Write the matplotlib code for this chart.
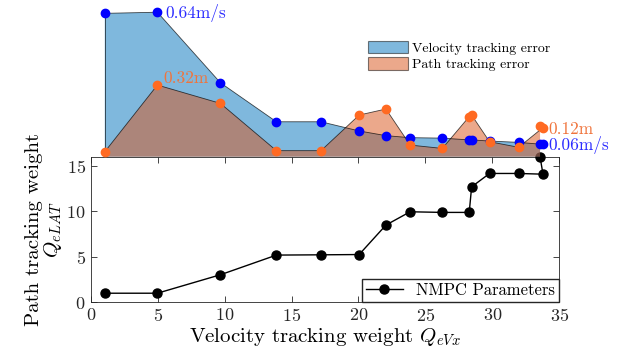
import matplotlib
matplotlib.use('Agg')
import matplotlib.pyplot as plt
from matplotlib.patches import Patch

# data
q_vx = [1.05, 4.98, 9.69, 13.87, 17.2, 20.05, 22.05, 23.86, 26.26, 28.27, 28.45, 29.79, 31.96, 33.78, 33.56]
q_lat = [1.0, 1.0, 3.03, 5.19, 5.22, 5.25, 8.49, 9.95, 9.88, 9.88, 12.69, 14.16, 14.16, 14.08, 15.98]
vel_err = [0.64, 0.645, 0.33, 0.156, 0.156, 0.115, 0.094, 0.085, 0.083, 0.075, 0.075, 0.07, 0.064, 0.055, 0.055]
path_err = [0.022, 0.32, 0.238, 0.027, 0.027, 0.186, 0.213, 0.052, 0.037, 0.179, 0.186, 0.067, 0.042, 0.13, 0.135]

plt.rcParams['font.family'] = 'serif'
plt.rcParams['font.serif'] = ['cmr10']
plt.rcParams['mathtext.fontset'] = 'cm'
plt.rcParams['axes.formatter.use_mathtext'] = True

blue = '#0072BD'
orange = '#D95319'

fig = plt.figure(figsize=(6.23, 3.54), dpi=100)

# bottom panel: weights
ax = fig.add_axes([0.1456, 0.146, 0.7522, 0.4113])
ax.plot(q_vx, q_lat, color='black', lw=1.0, marker='o', ms=6.5,
        label='NMPC Parameters', clip_on=False, zorder=5)
ax.set_xlim(0, 35)
ax.set_ylim(0, 16)
ax.set_xticks([0, 5, 10, 15, 20, 25, 30, 35])
ax.set_yticks([0, 5, 10, 15])
ax.tick_params(direction='in', top=True, right=True, length=4, width=0.6,
               labelsize=13, colors='#262626')
for s in ax.spines.values():
    s.set_linewidth(0.6)
    s.set_color('#262626')
ax.set_xlabel(r'Velocity tracking weight $Q_{eVx}$', fontsize=15, labelpad=1)
ax.set_ylabel('Path tracking weight\n' + r'$Q_{eLAT}$', fontsize=15, labelpad=2,
              linespacing=0.9)
ax.legend(loc='lower right', fontsize=12, frameon=True, fancybox=False,
          edgecolor='#262626', framealpha=1, borderpad=0.25, handlelength=2.2,
          borderaxespad=0)

# top panel: tracking errors
top = fig.add_axes([0.1456, 0.5573, 0.7522, 0.4427])
top.set_xlim(0, 35)
top.set_ylim(0, 0.6996)
top.axis('off')
top.fill_between(q_vx, 0, vel_err, facecolor=blue, alpha=0.5, edgecolor='none')
top.plot(q_vx, vel_err, color='black', lw=0.6, alpha=0.7)
top.fill_between(q_vx, 0, path_err, facecolor=orange, alpha=0.5, edgecolor='none')
top.plot(q_vx, path_err, color='black', lw=0.6, alpha=0.7)
top.plot([q_vx[0], q_vx[0]], [0, vel_err[0]], color='black', lw=0.6, alpha=0.7)
top.plot(q_vx, vel_err, 'o', color='#0000ff', ms=6, clip_on=False)
top.plot(q_vx, path_err, 'o', color='#ff6a22', ms=6, clip_on=False)

top.text(5.6, 0.64, '0.64m/s', color='#2a2aff', fontsize=12.5, va='center')
top.text(5.4, 0.35, '0.32m', color='#f0743c', fontsize=12.5, va='center')
top.text(34.2, 0.124, '0.12m', color='#f0743c', fontsize=12.5, va='center')
top.text(34.2, 0.053, '0.06m/s', color='#2a2aff', fontsize=12.5, va='center')

handles = [Patch(facecolor=blue, alpha=0.5, edgecolor='black', lw=0.8),
           Patch(facecolor=orange, alpha=0.5, edgecolor='black', lw=0.8)]
top.legend(handles, ['Velocity tracking error', 'Path tracking error'],
           loc='upper left', bbox_to_anchor=(0.565, 0.82), frameon=False,
           fontsize=10, handlelength=2.9, handleheight=1.0, labelspacing=0.2,
           handletextpad=0.3)

fig.savefig('out.png', dpi=100)
